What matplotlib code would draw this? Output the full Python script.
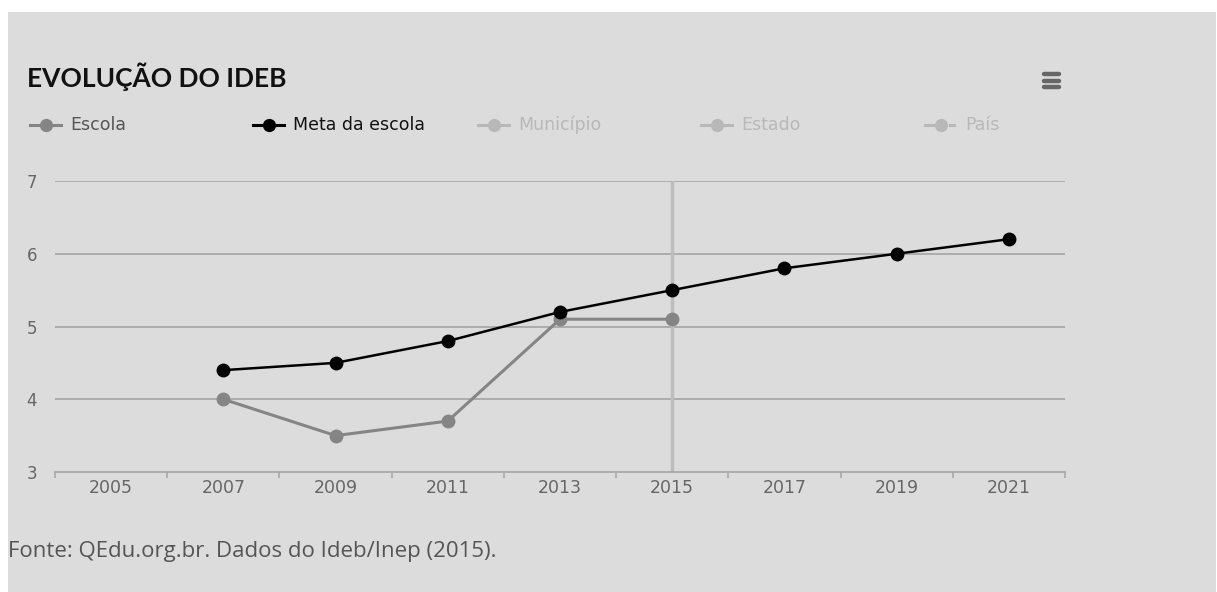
import matplotlib
matplotlib.use("Agg")
import matplotlib.pyplot as plt
from matplotlib.patches import Rectangle
from matplotlib.lines import Line2D

years = ["2005", "2007", "2009", "2011", "2013", "2015", "2017", "2019", "2021"]
escola_years = ["2007", "2009", "2011", "2013", "2015"]
escola_vals = [4.0, 3.5, 3.7, 5.1, 5.1]
meta_years = ["2007", "2009", "2011", "2013", "2015", "2017", "2019", "2021"]
meta_vals = [4.4, 4.5, 4.8, 5.2, 5.5, 5.8, 6.0, 6.2]
yticks = [3, 4, 5, 6, 7]
legend_labels = ["Escola", "Meta da escola", "Município", "Estado", "País"]
highlight_year = "2015"

plt.rcParams['font.family'] = ['DejaVu Sans']

W, H = 1217, 592
fig = plt.figure(figsize=(W / 100, H / 100), dpi=100)
fig.patch.set_facecolor("white")
bg = "#dcdcdc"
fig.patches.append(Rectangle((8 / W, 0), (W - 9) / W, (H - 12) / H,
                             transform=fig.transFigure, facecolor=bg,
                             edgecolor="none", zorder=-10))

def fx(px):
    return px / W

def fy(py):
    return 1 - py / H

ax = fig.add_axes([fx(55), fy(472), fx(1065) - fx(55), fy(181) - fy(472)])
ax.set_facecolor("none")
idx = {y: i for i, y in enumerate(years)}

ax.set_xlim(-0.5, len(years) - 0.5)
ax.set_ylim(3, 7)

for v in yticks[1:]:
    ax.axhline(v, color="#a9a9a9", lw=1.3, zorder=1)

ax.axvline(idx[highlight_year], color="#bdbdbd", lw=2.5, zorder=1)

ax.plot([idx[y] for y in escola_years], escola_vals, color="#858585", lw=2.2,
        marker="o", markersize=10, markeredgewidth=0, zorder=3)
ax.plot([idx[y] for y in meta_years], meta_vals, color="#000000", lw=1.8,
        marker="o", markersize=10, markeredgewidth=0, zorder=4)

for s in ["top", "right", "left"]:
    ax.spines[s].set_visible(False)
ax.spines["bottom"].set_color("#a9a9a9")
ax.spines["bottom"].set_linewidth(1.3)

ax.set_xticks([i for i in range(len(years))])
ax.set_xticklabels(years, fontsize=12.5, color="#666666")
ax.set_xticks([i - 0.5 for i in range(len(years) + 1)], minor=True)
ax.tick_params(axis="x", which="major", length=0, pad=5)
ax.tick_params(axis="x", which="minor", length=4.5, width=1.2, color="#a9a9a9", direction="out")
ax.set_yticks(yticks)
ax.set_yticklabels([str(v) for v in yticks], fontsize=12, color="#666666")
ax.tick_params(axis="y", length=0, pad=13)

# Title
fig.text(fx(27), fy(77), "EVOLUÇÃO DO IDEB", fontsize=19, fontweight="bold",
         family="Lato", color="#111111", va="center", ha="left")

# Hamburger icon
for yy in [74, 80.5, 87]:
    fig.add_artist(Line2D([fx(1044), fx(1059)], [fy(yy), fy(yy)], color="#666666",
                          lw=3.2, solid_capstyle="round"))

# Legend
leg_colors = ["#858585", "#000000", "#b8b8b8", "#b8b8b8", "#b8b8b8"]
leg_text_colors = ["#555555", "#111111", "#b8b8b8", "#b8b8b8", "#b8b8b8"]
leg_x = [30, 253, 478, 701, 925]
for k, (lbl, c, tc, x0) in enumerate(zip(legend_labels, leg_colors, leg_text_colors, leg_x)):
    yl = fy(125)
    if k == len(legend_labels) - 1:
        fig.add_artist(Line2D([fx(x0), fx(x0 + 16)], [yl, yl], color=c, lw=2.2))
        fig.add_artist(Line2D([fx(x0 + 25), fx(x0 + 29)], [yl, yl], color=c, lw=2.2))
    else:
        fig.add_artist(Line2D([fx(x0), fx(x0 + 31)], [yl, yl], color=c, lw=2.2))
    fig.add_artist(Line2D([fx(x0 + 15.5)], [yl], color=c, marker="o", markersize=9.5,
                          markeredgewidth=0))
    fig.text(fx(x0 + 40), yl, lbl, fontsize=12.5, color=tc,
             va="center", ha="left")

# Footer
fig.text(fx(8), fy(552), "Fonte: QEdu.org.br. Dados do Ideb/Inep (2015).",
         fontsize=16, color="#555555", family="Open Sans", va="center", ha="left")

fig.savefig("out.png", dpi=100, facecolor=fig.get_facecolor())
